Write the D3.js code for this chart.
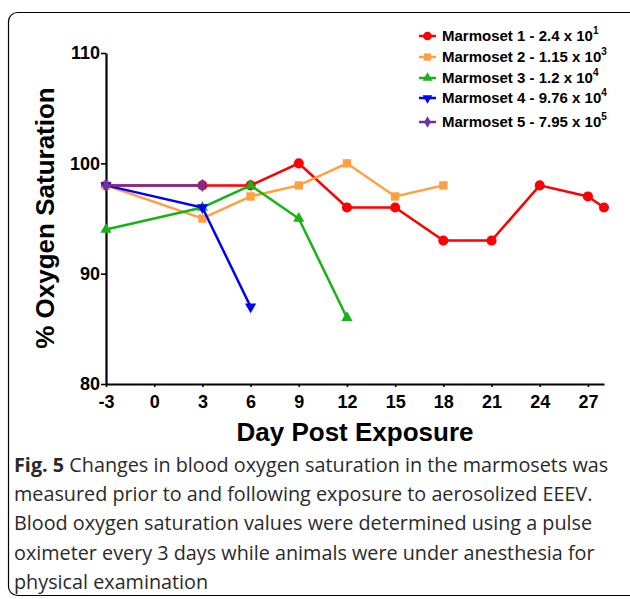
<!DOCTYPE html>
<html>
<head>
<meta charset="utf-8">
<script src="https://cdn.jsdelivr.net/npm/d3@7"></script>
<style>
  body { margin: 0; background: #fff; }
  svg { display: block; }
</style>
</head>
<body>
<script>
// Day post exposure on x, % O2 saturation on y
const m1Days = [-3, 3, 6, 9, 12, 15, 18, 21, 24, 27, 28];
const m1Vals = [98, 98, 98, 100, 96, 96, 93, 93, 98, 97, 96];
const m2Days = [-3, 3, 6, 9, 12, 15, 18];
const m2Vals = [98, 95, 97, 98, 100, 97, 98];
const m3Days = [-3, 3, 6, 9, 12];
const m3Vals = [94, 96, 98, 95, 86];
const m4Days = [-3, 3, 6];
const m4Vals = [98, 96, 87];
const m5Days = [-3, 3];
const m5Vals = [98, 98];

const seriesNames = ["Marmoset 1 - 2.4 x 10", "Marmoset 2 - 1.15 x 10", "Marmoset 3 - 1.2 x 10",
                     "Marmoset 4 - 9.76 x 10", "Marmoset 5 - 7.95 x 10"];
const exponents = ["1", "3", "4", "4", "5"];
const xTicks = [-3, 0, 3, 6, 9, 12, 15, 18, 21, 24, 27];
const yTicks = [80, 90, 100, 110];

const colors = ["#ff0000", "#ffa040", "#17b317", "#0000ff", "#7030a0"];
const shapes = [d3.symbolCircle, d3.symbolSquare, d3.symbolTriangle, d3.symbolTriangle, d3.symbolDiamond];
const sizes = [80, 70, 55, 55, 50];

const series = [
  [m1Days, m1Vals], [m2Days, m2Vals], [m3Days, m3Vals], [m4Days, m4Vals], [m5Days, m5Vals]
].map(([d, v], i) => ({i, pts: d.map((x, k) => ({x, y: v[k]}))}));

const W = 630, H = 599;
const svg = d3.select("body").append("svg").attr("width", W).attr("height", H);

// frame round the figure
svg.append("rect")
  .attr("x", 8.5).attr("y", 12.5).attr("width", 630).attr("height", 583)
  .attr("rx", 9).attr("fill", "none").attr("stroke", "#000").attr("stroke-width", 1.2);

const x = d3.scaleLinear().domain([-3, 28]).range([106, 604]);
const y = d3.scaleLinear().domain([80, 110]).range([384, 53]);

const tickFont = "'Liberation Sans', Arial, sans-serif";

const xAxis = svg.append("g")
  .attr("transform", `translate(0,${y(80)})`)
  .call(d3.axisBottom(x).tickValues(xTicks).tickFormat(d => String(d))
    .tickSize(3).tickPadding(8).tickSizeOuter(0));
const yAxis = svg.append("g")
  .attr("transform", `translate(${x(-3)},0)`)
  .call(d3.axisLeft(y).tickValues(yTicks).tickSize(5).tickPadding(1).tickSizeOuter(0));

[xAxis, yAxis].forEach(a => {
  a.select(".domain").attr("stroke-width", 2.2);
  a.selectAll(".tick line").attr("stroke-width", 1.6);
  a.selectAll("text").attr("font-family", tickFont).attr("font-weight", "bold")
    .attr("font-size", 18).attr("fill", "#000");
});

svg.append("text")
  .attr("x", 355).attr("y", 441)
  .attr("text-anchor", "middle")
  .attr("font-family", "'Liberation Sans', Arial, sans-serif").attr("font-weight", "bold")
  .attr("font-size", 26).text("Day Post Exposure");

svg.append("text")
  .attr("transform", `translate(54,218) rotate(-90)`)
  .attr("text-anchor", "middle")
  .attr("font-family", "'Liberation Sans', Arial, sans-serif").attr("font-weight", "bold")
  .attr("font-size", 26).text("% Oxygen Saturation");

const line = d3.line().x(d => x(d.x)).y(d => y(d.y));
const sym = (i, s) => d3.symbol().type(shapes[i]).size(s)();

const g = svg.selectAll(".series").data(series).join("g").attr("class", "series");
g.append("path")
  .attr("d", d => line(d.pts))
  .attr("fill", "none")
  .attr("stroke", d => colors[d.i])
  .attr("stroke-width", 2.5);
g.selectAll(".pt").data(d => d.pts.map(p => ({...p, i: d.i}))).join("path")
  .attr("class", "pt")
  .attr("transform", d => `translate(${x(d.x)},${y(d.y)})${d.i === 3 ? " rotate(180)" : ""}`)
  .attr("d", d => sym(d.i, sizes[d.i]))
  .attr("fill", d => colors[d.i]);

// legend
const legend = svg.append("g");
const rowY = [36, 57, 78, 98, 122];
seriesNames.forEach((name, i) => {
  const r = legend.append("g").attr("transform", `translate(0,${rowY[i]})`);
  r.append("line").attr("x1", 419).attr("x2", 436).attr("y1", 0).attr("y2", 0)
    .attr("stroke", colors[i]).attr("stroke-width", 2.5);
  r.append("path").attr("transform", `translate(427.5,0)${i === 3 ? " rotate(180)" : ""}`)
    .attr("d", sym(i, sizes[i] * 0.75)).attr("fill", colors[i]);
  const t = r.append("text").attr("x", 442).attr("y", 5)
    .attr("font-family", "'Liberation Sans', Arial, sans-serif").attr("font-weight", "bold")
    .attr("font-size", 15).attr("fill", "#000");
  t.append("tspan").text(name);
  t.append("tspan").attr("dy", -7).attr("font-size", 10).text(exponents[i]);
});

// caption
const capLines = [
  [["Fig. 5", true], [" Changes in blood oxygen saturation in the marmosets was", false]],
  [["measured prior to and following exposure to aerosolized EEEV.", false]],
  [["Blood oxygen saturation values were determined using a pulse", false]],
  [["oximeter every 3 days while animals were under anesthesia for", false]],
  [["physical examination", false]]
];
const cap = svg.append("text")
  .attr("font-family", "'Open Sans', 'Noto Sans', sans-serif")
  .attr("font-size", 19.8).attr("fill", "#2a2a2a");
capLines.forEach((ln, k) => {
  ln.forEach(([txt, bold], j) => {
    const ts = cap.append("tspan").text(txt)
      .attr("font-weight", bold ? "bold" : "normal");
    if (j === 0) ts.attr("x", 14).attr("y", 472 + k * 29.2);
  });
});
</script>
</body>
</html>
